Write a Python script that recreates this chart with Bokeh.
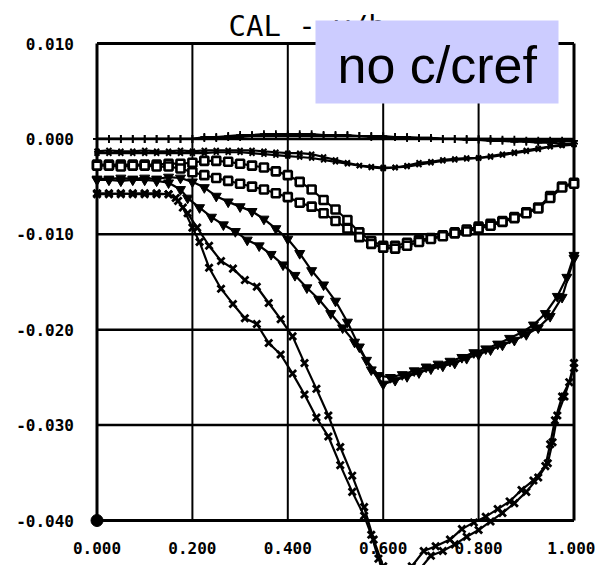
from bokeh.plotting import figure
from bokeh.models import Range1d, FixedTicker, Label, BoxAnnotation, NumeralTickFormatter
from bokeh.embed import file_html
from bokeh.resources import INLINE

# ---------------- data ----------------
x_ticks = [0.0, 0.2, 0.4, 0.6, 0.8, 1.0]
x_tick_labels = ["0.000", "0.200", "0.400", "0.600", "0.800", "1.000"]
y_ticks = [0.01, 0.0, -0.01, -0.02, -0.03, -0.04]
y_tick_labels = ["0.010", "0.000", "-0.010", "-0.020", "-0.030", "-0.040"]
title_text = "CAL - y/b"
note_text = "no c/cref"

stations = [0.0, 0.025, 0.05, 0.075, 0.1, 0.125, 0.15, 0.175, 0.2, 0.225, 0.25, 0.275,
            0.3, 0.325, 0.35, 0.375, 0.4, 0.425, 0.45, 0.475, 0.5, 0.525, 0.55, 0.575,
            0.6, 0.625, 0.65, 0.675, 0.7, 0.725, 0.75, 0.775, 0.8, 0.825, 0.85, 0.875,
            0.9, 0.925, 0.95, 0.975, 1.0]

plus_a = [0.0, 0.0, 0.0, 0.0, 0.0, 0.0, 0.0, 0.0, 0.0,
          0.0001, 0.0001, 0.0002, 0.0002, 0.0003, 0.0003, 0.0003, 0.0003, 0.0003, 0.0003,
          0.0003, 0.0003, 0.0003, 0.0003, 0.0002, 0.0002, 0.0002, 0.0001, 0.0001, 0.0001,
          0.0, 0.0, 0.0, 0.0, 0.0, -0.0001, -0.0001, -0.0002, -0.0002, -0.0002, -0.0002, -0.0002]
plus_b = [0.0, 0.0, 0.0, 0.0, 0.0, 0.0, 0.0, 0.0, 0.0,
          0.0002, 0.0002, 0.0003, 0.0004, 0.0004, 0.0005, 0.0005, 0.0005, 0.0005, 0.0005,
          0.0004, 0.0004, 0.0004, 0.0003, 0.0003, 0.0003, 0.0002, 0.0002, 0.0001, 0.0001,
          0.0, 0.0, -0.0001, -0.0001, -0.0002, -0.0002, -0.0003, -0.0003, -0.0004, -0.0004,
          -0.0005, -0.0005]

xtop_a = [-0.0013, -0.0012, -0.0013, -0.0013, -0.0012, -0.0013, -0.0013, -0.0012, -0.0013,
          -0.0012, -0.0012, -0.0012, -0.0012, -0.0012, -0.0013, -0.0014, -0.0015, -0.0015,
          -0.0016, -0.0019, -0.0022, -0.0025, -0.0028, -0.003, -0.0031, -0.003, -0.0028,
          -0.0025, -0.0024, -0.0022, -0.0021, -0.002, -0.002, -0.0019, -0.0017, -0.0015,
          -0.0013, -0.0011, -0.0008, -0.0006, -0.0005]
xtop_b = [-0.0015, -0.0015, -0.0015, -0.0015, -0.0015, -0.0015, -0.0015, -0.0015, -0.0015,
          -0.0015, -0.0014, -0.0014, -0.0014, -0.0015, -0.0016, -0.0017, -0.0018, -0.0019,
          -0.002, -0.0022, -0.0024, -0.0026, -0.0028, -0.0029, -0.003, -0.003, -0.0029,
          -0.0027, -0.0025, -0.0023, -0.0022, -0.0021, -0.002, -0.0018, -0.0016, -0.0014,
          -0.0012, -0.001, -0.0008, -0.0007, -0.0006]

sq_a = [-0.0027, -0.0027, -0.0027, -0.0027, -0.0027, -0.0027, -0.0026, -0.0026, -0.0025,
        -0.0023, -0.0023, -0.0024, -0.0026, -0.0028, -0.003, -0.0034, -0.0038, -0.0045,
        -0.0053, -0.0064, -0.0074, -0.0085, -0.0098, -0.0107, -0.0112, -0.0112, -0.0109,
        -0.0106, -0.0104, -0.0101, -0.0098, -0.0095, -0.0092, -0.0089, -0.0086, -0.0082,
        -0.0077, -0.0072, -0.006, -0.005, -0.0046]
sq_b = [-0.0028, -0.0028, -0.0029, -0.0028, -0.0028, -0.0029, -0.0029, -0.0031, -0.0035,
        -0.0038, -0.0041, -0.0044, -0.0047, -0.005, -0.0053, -0.0057, -0.0061, -0.0067,
        -0.0071, -0.0078, -0.0086, -0.0094, -0.0103, -0.011, -0.0114, -0.0115, -0.0112,
        -0.0108, -0.0105, -0.0102, -0.0099, -0.0097, -0.0094, -0.0091, -0.0087, -0.0083,
        -0.0078, -0.0073, -0.0062, -0.0051, -0.0047]

v_a = [-0.0042, -0.0042, -0.0041, -0.0042, -0.0041, -0.0042, -0.004, -0.0041, -0.0045,
       -0.0051, -0.006, -0.0066, -0.0071, -0.0076, -0.0084, -0.0094, -0.0105, -0.012,
       -0.0138, -0.0153, -0.017, -0.0192, -0.0218, -0.0242, -0.0257, -0.0253, -0.0249,
       -0.0245, -0.0241, -0.0238, -0.0235, -0.023, -0.0226, -0.0221, -0.0216, -0.0211,
       -0.0205, -0.0198, -0.0186, -0.0166, -0.0125]
v_b_x = [0.0, 0.025, 0.05, 0.075, 0.1, 0.125, 0.15, 0.175, 0.19, 0.215, 0.24, 0.265, 0.29,
         0.315, 0.34, 0.365, 0.39, 0.415, 0.44, 0.465, 0.49, 0.515, 0.54, 0.565, 0.59, 0.615,
         0.64, 0.665, 0.69, 0.715, 0.74, 0.765, 0.79, 0.815, 0.84, 0.865, 0.89, 0.915, 0.94,
         0.965, 0.985, 1.0]
v_b = [-0.0043, -0.0043, -0.0044, -0.0043, -0.0043, -0.0044, -0.0046, -0.0053, -0.0062,
       -0.0072, -0.0082, -0.009, -0.0097, -0.0106, -0.0112, -0.0121, -0.0132, -0.0143,
       -0.0156, -0.0168, -0.0183, -0.0198, -0.0213, -0.0232, -0.0248, -0.025, -0.0247,
       -0.0243, -0.0239, -0.0236, -0.0233, -0.0229, -0.0224, -0.022, -0.0215, -0.0209,
       -0.0203, -0.0195, -0.0183, -0.0165, -0.0145, -0.0122]

xl_a_x = [0.0, 0.025, 0.05, 0.075, 0.1, 0.125, 0.15, 0.17, 0.19, 0.21, 0.235, 0.26, 0.285,
          0.31, 0.335, 0.36, 0.385, 0.41, 0.435, 0.46, 0.485, 0.51, 0.535, 0.56, 0.58, 0.6,
          0.63, 0.66, 0.685, 0.71, 0.74, 0.765, 0.79, 0.815, 0.84, 0.865, 0.89, 0.915, 0.94,
          0.95, 0.96, 0.975, 0.99, 1.0]
xl_a = [-0.0057, -0.0057, -0.0058, -0.0057, -0.0057, -0.0057, -0.0058, -0.0065, -0.0078,
        -0.0093, -0.0112, -0.0128, -0.0136, -0.0148, -0.0155, -0.0172, -0.0189, -0.0207,
        -0.0235, -0.0262, -0.029, -0.0323, -0.0353, -0.0386, -0.042, -0.0448, -0.046,
        -0.0448, -0.0432, -0.0427, -0.042, -0.0409, -0.0402, -0.0396, -0.0388, -0.038,
        -0.0368, -0.0358, -0.0343, -0.032, -0.0295, -0.027, -0.0255, -0.0235]
xl_b_x = [0.0, 0.025, 0.05, 0.075, 0.1, 0.125, 0.15, 0.165, 0.18, 0.2, 0.215, 0.235, 0.26,
          0.285, 0.31, 0.335, 0.36, 0.385, 0.41, 0.435, 0.46, 0.485, 0.51, 0.535, 0.56, 0.575,
          0.59, 0.61, 0.64, 0.67, 0.7, 0.725, 0.75, 0.775, 0.8, 0.825, 0.85, 0.875, 0.9, 0.925,
          0.945, 0.955, 0.965, 0.98, 1.0]
xl_b = [-0.0058, -0.0058, -0.0057, -0.0058, -0.0058, -0.0058, -0.0058, -0.0062, -0.0072,
        -0.0093, -0.0108, -0.0135, -0.0157, -0.0173, -0.0188, -0.0194, -0.0214, -0.0226,
        -0.0246, -0.0268, -0.0292, -0.0312, -0.0342, -0.037, -0.0395, -0.0415, -0.044,
        -0.0465, -0.047, -0.0455, -0.0437, -0.0432, -0.0425, -0.0417, -0.041, -0.0401,
        -0.0392, -0.0382, -0.037, -0.0355, -0.034, -0.0318, -0.029, -0.027, -0.024]

dot_x = [0.0]
dot_y = [-0.04]

# ---------------- layout ----------------
W, H = 595, 565
MARGIN = 0
BOX_L, BOX_R, BOX_T, BOX_B = 96.5, 573.5, 43.0, 520.0  # page pixels of the plot box

x0, x1 = x_ticks[0], x_ticks[-1]
ytop, ybot = y_ticks[0], y_ticks[-1]
sxu = (BOX_R - BOX_L) / (x1 - x0)
syu = (BOX_B - BOX_T) / (ytop - ybot)
x_start = x0 - (BOX_L - MARGIN) / sxu
x_end = x1 + (MARGIN + W - BOX_R) / sxu
y_end = ytop + (BOX_T - MARGIN) / syu
y_start = ybot - (MARGIN + H - BOX_B) / syu


def px(page_x):
    return x_start + (page_x - MARGIN) / sxu


def py(page_y):
    return y_end - (page_y - MARGIN) / syu


p = figure(width=W, height=H, x_range=Range1d(x_start, x_end), y_range=Range1d(y_start, y_end),
           output_backend="svg", toolbar_location=None, min_border=0,
           min_border_left=0, min_border_right=0, min_border_top=0, min_border_bottom=0)
p.outline_line_color = None
p.xgrid.visible = False
p.ygrid.visible = False
p.background_fill_color = "white"
p.border_fill_color = "white"

# grid and box, drawn from the tick lists
inner_x = x_ticks[1:-1]
inner_y = y_ticks[1:-1]
p.segment(x0=inner_x, y0=[ybot] * len(inner_x), x1=inner_x, y1=[ytop] * len(inner_x),
          line_color="black", line_width=2)
p.segment(x0=[x0] * len(inner_y), y0=inner_y, x1=[x1] * len(inner_y), y1=inner_y,
          line_color="black", line_width=2.5)
p.segment(x0=[x0, x1, x0, x0], y0=[ybot, ybot, ytop, ybot], x1=[x0, x1, x1, x1],
          y1=[ytop, ytop, ytop, ybot], line_color="black", line_width=3)

series = [
    (stations, plus_a, "cross", 8, 1.8, "black"),
    (stations, plus_b, "cross", 8, 1.8, "black"),
    (stations, xtop_a, "x", 7, 2.0, "black"),
    (stations, xtop_b, "x", 7, 2.0, "black"),
    (stations, sq_a, "square", 8, 2.6, "white"),
    (stations, sq_b, "square", 8, 2.6, "white"),
    (stations, v_a, "inverted_triangle", 10, 1.0, "black"),
    (v_b_x, v_b, "inverted_triangle", 10, 1.0, "black"),
    (xl_a_x, xl_a, "x", 10, 2.8, "black"),
    (xl_b_x, xl_b, "x", 10, 2.8, "black"),
]
for xs, ys, mk, sz, lw, fc in series:
    p.line(xs, ys, line_color="black", line_width=2.2)
    p.scatter(xs, ys, marker=mk, size=sz, line_color="black", line_width=lw, fill_color=fc)

p.scatter(dot_x, dot_y, marker="circle", size=12, color="black")

# axes placed on the box edges
for ax in (p.xaxis[0], p.yaxis[0]):
    ax.axis_line_color = None
    ax.major_tick_in = 0
    ax.major_tick_out = 0
    ax.minor_tick_in = 0
    ax.minor_tick_out = 0
    ax.major_label_text_font = "DejaVu Sans Mono"
    ax.major_label_text_font_style = "bold"
    ax.major_label_text_font_size = "16px"
    ax.major_label_text_color = "black"
    ax.formatter = NumeralTickFormatter(format="0.000")

p.xaxis[0].fixed_location = ybot
p.xaxis[0].ticker = FixedTicker(ticks=x_ticks)
p.xaxis[0].major_label_overrides = dict(zip(x_ticks, x_tick_labels))
p.xaxis[0].major_label_standoff = 21

p.yaxis[0].fixed_location = x0
p.yaxis[0].ticker = FixedTicker(ticks=y_ticks)
p.yaxis[0].major_label_overrides = dict(zip(y_ticks, y_tick_labels))
p.yaxis[0].major_label_standoff = 23

# title and overlay note
p.add_layout(Label(x=px(228), y=py(25), text=title_text, text_font="DejaVu Sans Mono",
                   text_font_size="29px", text_color="black", text_align="left",
                   text_baseline="alphabetic"))
p.add_layout(BoxAnnotation(left=px(315), right=px(558), top=py(20), bottom=py(103),
                           fill_color="#ccccff", fill_alpha=1.0, line_color=None))
p.add_layout(Label(x=px(337), y=py(64), text=note_text, text_font="Liberation Sans",
                   text_font_size="52px", text_color="black", text_align="left",
                   text_baseline="alphabetic"))

open("out.html", "w").write(file_html(p, INLINE))
